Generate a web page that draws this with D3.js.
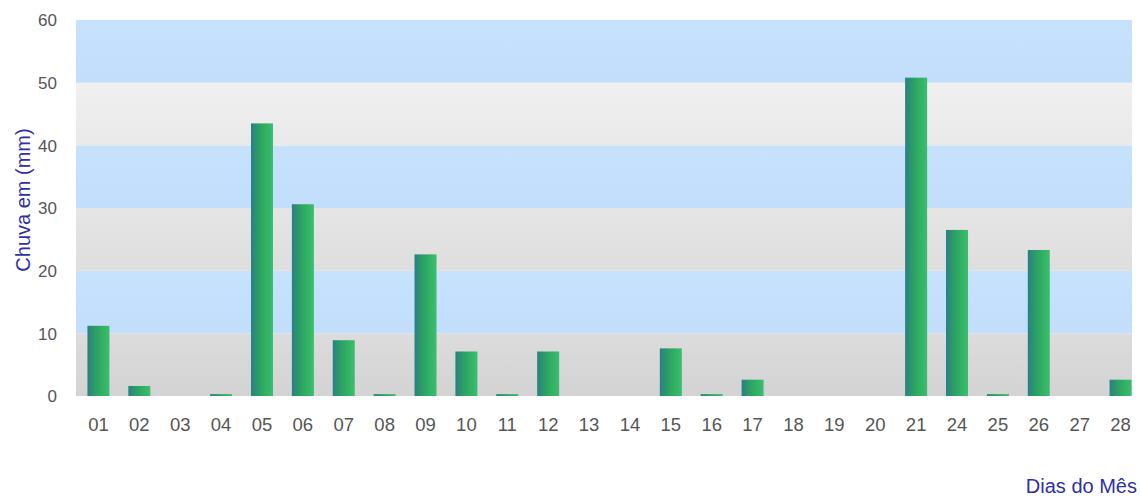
<!DOCTYPE html>
<html><head><meta charset="utf-8">
<script src="https://cdn.jsdelivr.net/npm/d3@7"></script>
<style>body{margin:0;background:#fff}svg{display:block}</style>
</head><body>
<script>
const days = ["01","02","03","04","05","06","07","08","09","10","11","12","13","14","15","16","17","18","19","20","21","24","25","26","27","28"];
const rain = [11.2,1.6,0,0.3,43.5,30.6,8.9,0.3,22.6,7.1,0.3,7.1,0,0,7.6,0.3,2.6,0,0,0,50.8,26.5,0.3,23.3,0,2.6];
const yTicks = [0,10,20,30,40,50,60];
const bands = [[0,10,"grey0"],[10,20,"blue"],[20,30,"grey1"],[30,40,"blue"],[40,50,"grey2"],[50,60,"blue"]];

const W=1141,H=500;
const FONT="Liberation Sans, Arial, sans-serif";
const svg=d3.select("body").append("svg").attr("width",W).attr("height",H);
const defs=svg.append("defs");
function vgrad(id,t,b){const g=defs.append("linearGradient").attr("id",id).attr("x1",0).attr("y1",0).attr("x2",0).attr("y2",1);
 g.append("stop").attr("offset",0).attr("stop-color",t);g.append("stop").attr("offset",1).attr("stop-color",b);}
vgrad("blue","#c6e2fd","#c2defb");
vgrad("grey0","#dcdcdc","#d3d3d3");
vgrad("grey1","#e5e5e5","#dedede");
vgrad("grey2","#f0f0f0","#e9e9e9");
const bg=defs.append("linearGradient").attr("id","bar").attr("x1",0).attr("y1",0).attr("x2",1).attr("y2",0);
[[0,"#2b7f86"],[0.3,"#2b9a68"],[0.65,"#30b060"],[1,"#3cbd70"]].forEach(s=>bg.append("stop").attr("offset",s[0]).attr("stop-color",s[1]));

const plotL=76, plotR=1132, plotT=20, plotB=396;
const y=d3.scaleLinear().domain([0,60]).range([plotB,plotT]);
const x=d3.scaleBand().domain(days).range([78,1141]).paddingInner(0).paddingOuter(0);

svg.append("g").selectAll("rect").data(bands).join("rect")
 .attr("x",plotL).attr("width",plotR-plotL)
 .attr("y",d=>y(d[1])).attr("height",d=>y(d[0])-y(d[1]))
 .attr("fill",d=>`url(#${d[2]})`);

const bw=22;
svg.append("g").selectAll("rect").data(days).join("rect")
 .attr("x",(d)=>x(d)+x.bandwidth()/2-bw/2).attr("width",bw)
 .attr("y",(d,i)=>y(rain[i])).attr("height",(d,i)=>y(0)-y(rain[i]))
 .attr("fill","url(#bar)");

const ya=svg.append("g").attr("transform",`translate(${plotL-19},0)`)
 .call(d3.axisLeft(y).tickValues(yTicks).tickSize(0).tickPadding(0));
ya.select(".domain").remove();
ya.selectAll("text").attr("fill","#555").attr("font-family",FONT).attr("font-size",17).attr("dy","0.35em");

const xa=svg.append("g").attr("transform",`translate(0,${plotB})`)
 .call(d3.axisBottom(x).tickSize(0).tickPadding(22));
xa.select(".domain").remove();
xa.selectAll("text").attr("fill","#555").attr("font-family",FONT).attr("font-size",18.5).attr("dy","0.35em").attr("y",29);

svg.append("text").attr("transform","translate(23,200) rotate(-90)")
 .attr("text-anchor","middle").attr("dy","0.35em").attr("fill","#2f2fa6")
 .attr("font-family",FONT).attr("font-size",20)
 .text("Chuva em (mm)");
svg.append("text").attr("x",1137).attr("y",493).attr("text-anchor","end")
 .attr("fill","#2f2fa6").attr("font-family",FONT).attr("font-size",20)
 .text("Dias do Mês");
</script>
</body></html>
